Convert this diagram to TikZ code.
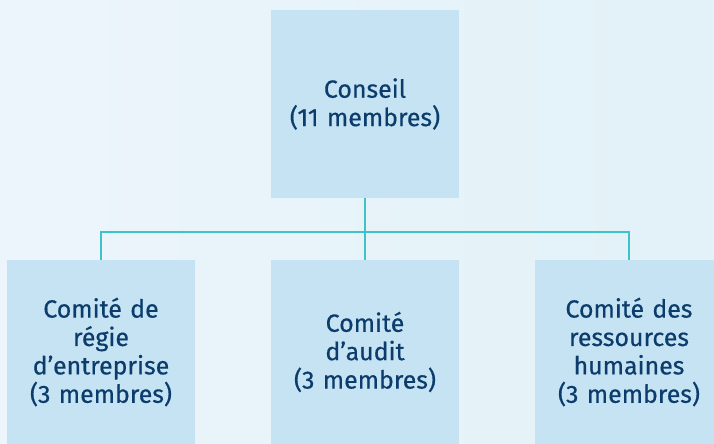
\documentclass[tikz,border=0pt]{standalone}
\usepackage{fontspec}
\setmainfont{Fira Sans}[FakeBold=0.5]
\definecolor{boxfill}{HTML}{C5E3F3}
\definecolor{txt}{HTML}{0B3C6B}
\definecolor{wire}{HTML}{3EC3CB}
\definecolor{bgl}{HTML}{ECF5FB}
\definecolor{bgr}{HTML}{E2F2F8}
\begin{document}
\begin{tikzpicture}[x=1bp,y=-1bp,
  orgbox/.style={draw=none,fill=boxfill,minimum width=188bp,text width=184bp,align=center,
    text=txt,font=\fontsize{25}{28.5}\selectfont,inner sep=0pt},
  wireline/.style={draw=wire,line width=1.2bp}]
\shade[left color=bgl,right color=bgr] (0,0) rectangle (714,444);
\useasboundingbox (0,0) rectangle (714,444);
\node[orgbox,minimum height=188bp] (top) at (365,104) {Conseil\\(11 membres)};
\node[orgbox,minimum height=184bp] (left) at (101,352) {Comité de\\régie\\d’entreprise\\(3 membres)};
\node[orgbox,minimum height=184bp] (mid) at (365,352) {Comité\\d’audit\\(3 membres)};
\node[orgbox,minimum height=184bp] (right) at (629,352) {Comité des\\ressources\\humaines\\(3 membres)};
\coordinate (bus) at (365,232);
\draw[wireline] (top.south) -- (mid.north);
\draw[wireline] (left.north) |- (bus) -| (right.north);
\end{tikzpicture}
\end{document}
